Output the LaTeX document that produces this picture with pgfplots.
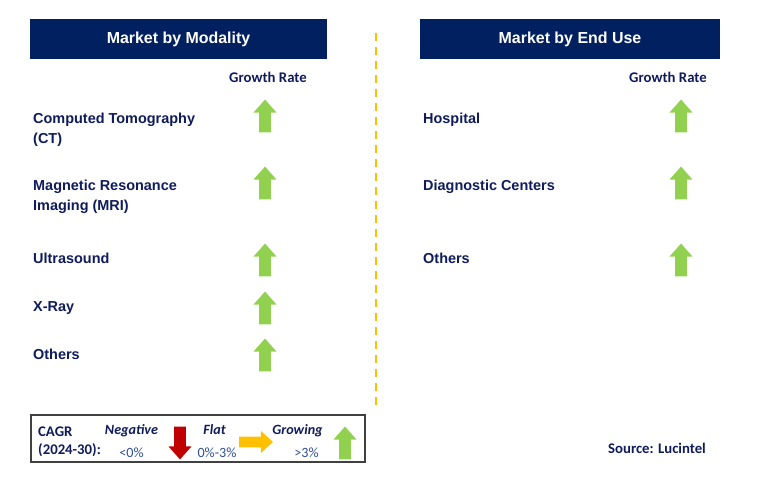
\documentclass[border=0pt]{standalone}
\usepackage{fontspec}
\setmainfont{Liberation Sans}
\newfontfamily\calfont{Carlito}
\usepackage{pgfplots}
\pgfplotsset{compat=1.18}

\definecolor{navy}{HTML}{002060}
\definecolor{txt}{HTML}{0E1B5C}
\definecolor{grn}{HTML}{92D050}
\definecolor{redarr}{HTML}{C00000}
\definecolor{yelarr}{HTML}{FFC000}
\definecolor{lblue}{HTML}{2F4F9F}

% arrow marks (sizes in px of the reference)
\pgfdeclareplotmark{uparr}{%
  \pgfpathmoveto{\pgfqpoint{-6pt}{-16.5pt}}%
  \pgfpathlineto{\pgfqpoint{6pt}{-16.5pt}}%
  \pgfpathlineto{\pgfqpoint{6pt}{3.5pt}}%
  \pgfpathlineto{\pgfqpoint{11.5pt}{3.5pt}}%
  \pgfpathlineto{\pgfqpoint{0pt}{16.5pt}}%
  \pgfpathlineto{\pgfqpoint{-11.5pt}{3.5pt}}%
  \pgfpathlineto{\pgfqpoint{-6pt}{3.5pt}}%
  \pgfpathclose\pgfusepathqfill}
\pgfdeclareplotmark{downarr}{%
  \pgfpathmoveto{\pgfqpoint{-6pt}{16.5pt}}%
  \pgfpathlineto{\pgfqpoint{6pt}{16.5pt}}%
  \pgfpathlineto{\pgfqpoint{6pt}{-3.5pt}}%
  \pgfpathlineto{\pgfqpoint{11.5pt}{-3.5pt}}%
  \pgfpathlineto{\pgfqpoint{0pt}{-16.5pt}}%
  \pgfpathlineto{\pgfqpoint{-11.5pt}{-3.5pt}}%
  \pgfpathlineto{\pgfqpoint{-6pt}{-3.5pt}}%
  \pgfpathclose\pgfusepathqfill}
\pgfdeclareplotmark{rightarr}{%
  \pgfpathmoveto{\pgfqpoint{-17pt}{-5.5pt}}%
  \pgfpathlineto{\pgfqpoint{-17pt}{5.5pt}}%
  \pgfpathlineto{\pgfqpoint{5pt}{5.5pt}}%
  \pgfpathlineto{\pgfqpoint{5pt}{11pt}}%
  \pgfpathlineto{\pgfqpoint{17pt}{0pt}}%
  \pgfpathlineto{\pgfqpoint{5pt}{-11pt}}%
  \pgfpathlineto{\pgfqpoint{5pt}{-5.5pt}}%
  \pgfpathclose\pgfusepathqfill}

\begin{document}
\begin{tikzpicture}[
    lbl/.style={anchor=base west, inner sep=0pt, text=txt,
        font=\bfseries\fontsize{14.5}{17}\selectfont},
    cb/.style={inner sep=0pt, text=txt, anchor=base,
        font=\calfont\bfseries\fontsize{14.8}{17}\selectfont},
    cbi/.style={cb, font=\calfont\bfseries\itshape\fontsize{14.2}{17}\selectfont},
    cn/.style={cb, text=lblue, font=\calfont\fontsize{14.2}{17}\selectfont},
]
\begin{axis}[
    scale only axis,
    width=758bp, height=491bp,
    xmin=0, xmax=758, ymin=0, ymax=491,
    y dir=reverse,
    axis lines=none,
    clip=false,
]
\path (rel axis cs:0,0) rectangle (rel axis cs:1,1);

% headers
\fill[navy] (axis cs:30,19) rectangle (axis cs:327,59);
\fill[navy] (axis cs:420,19) rectangle (axis cs:720,59);
\node[white, font=\bfseries\fontsize{16}{19}\selectfont] at (axis cs:178.5,39) {Market by Modality};
\node[white, font=\bfseries\fontsize{16}{19}\selectfont] at (axis cs:570,39) {Market by End Use};

\node[cb] at (axis cs:268,83) {Growth Rate};
\node[cb] at (axis cs:668,83) {Growth Rate};

% divider
\draw[yelarr, line width=2bp, dash pattern=on 8bp off 6bp] (axis cs:375.5,33) -- (axis cs:375.5,405);

% left categories
\node[lbl] at (axis cs:33,123) {Computed Tomography};
\node[lbl] at (axis cs:33,143) {(CT)};
\node[lbl] at (axis cs:33,190) {Magnetic Resonance};
\node[lbl] at (axis cs:33,210) {Imaging (MRI)};
\node[lbl] at (axis cs:33,263) {Ultrasound};
\node[lbl] at (axis cs:33,311) {X-Ray};
\node[lbl] at (axis cs:33,359) {Others};

% right categories
\node[lbl] at (axis cs:423,123) {Hospital};
\node[lbl] at (axis cs:423,190) {Diagnostic Centers};
\node[lbl] at (axis cs:423,263) {Others};

% growth arrows
\addplot[only marks, mark=uparr, color=grn] coordinates {
  (265,116) (265,183) (265,260) (265,308) (265,355)
  (681,116) (681,183) (681,260) (345,443)};
\addplot[only marks, mark=downarr, color=redarr] coordinates {(180,443)};
\addplot[only marks, mark=rightarr, color=yelarr] coordinates {(256,442)};

% legend box
\draw[black!75, line width=1.2bp] (axis cs:31,415) rectangle (axis cs:365,462);
\node[cb, anchor=base west] at (axis cs:38,436) {CAGR};
\node[cb, anchor=base west] at (axis cs:38,454) {(2024-30):};
\node[cbi] at (axis cs:131.5,434) {Negative};
\node[cbi] at (axis cs:214.5,434) {Flat};
\node[cbi] at (axis cs:297.5,434) {Growing};
\node[cn] at (axis cs:131.5,457) {<0\%};
\node[cn] at (axis cs:217,457) {0\%-3\%};
\node[cn] at (axis cs:306.5,457) {>3\%};

\node[cb, anchor=base west] at (axis cs:608,453) {Source: Lucintel};
\end{axis}
\end{tikzpicture}
\end{document}
